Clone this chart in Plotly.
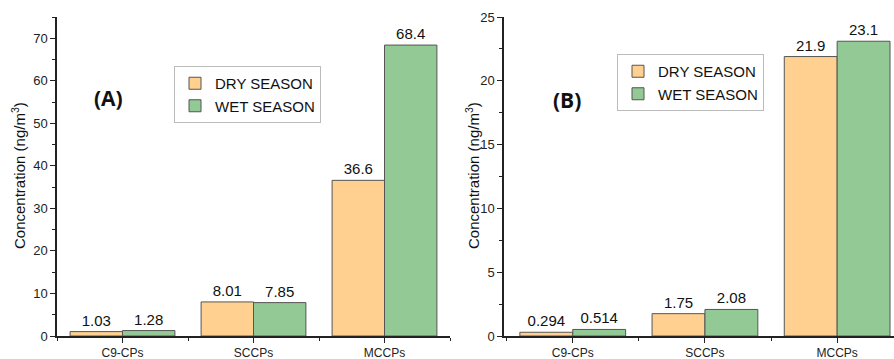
import plotly.graph_objects as go

categories = ["C9-CPs", "SCCPs", "MCCPs"]
dry_A = [1.03, 8.01, 36.6]
wet_A = [1.28, 7.85, 68.4]
dry_B = [0.294, 1.75, 21.9]
wet_B = [0.514, 2.08, 23.1]
dry_A_txt = ["1.03", "8.01", "36.6"]
wet_A_txt = ["1.28", "7.85", "68.4"]
dry_B_txt = ["0.294", "1.75", "21.9"]
wet_B_txt = ["0.514", "2.08", "23.1"]
series_names = ["DRY SEASON", "WET SEASON"]
panel_labels = ["(A)", "(B)"]
y_title = "Concentration (ng/m<sup>3</sup>)"

ORANGE = "#FFD08F"
GREEN = "#92C995"
OUTLINE = "#555555"
FONT = "Liberation Sans, Arial, sans-serif"

xpos = list(range(len(categories)))
fig = go.Figure()

def add_bars(vals, txt, name, color, xa, ya, legend):
    fig.add_trace(go.Bar(
        x=xpos, y=vals, name=name, text=txt, textposition="outside",
        textfont=dict(size=15, color="#111", family=FONT),
        marker=dict(color=color, line=dict(color=OUTLINE, width=1)),
        xaxis=xa, yaxis=ya, legend=legend, cliponaxis=False,
    ))

add_bars(dry_A, dry_A_txt, series_names[0], ORANGE, "x", "y", "legend")
add_bars(wet_A, wet_A_txt, series_names[1], GREEN, "x", "y", "legend")
add_bars(dry_B, dry_B_txt, series_names[0], ORANGE, "x2", "y2", "legend2")
add_bars(wet_B, wet_B_txt, series_names[1], GREEN, "x2", "y2", "legend2")

ybot = (359 - 336) / 359
ytop = (359 - 17) / 359

xcommon = dict(
    tickvals=xpos, ticktext=categories, showline=True, linecolor="#222", linewidth=1.5,
    ticks="outside", ticklen=5, tickcolor="#222", tickwidth=1.2,
    tickfont=dict(size=12, color="#222", family=FONT), showgrid=False, zeroline=False,
    minor=dict(tick0=0.5, dtick=1, ticks="outside", ticklen=3, tickcolor="#222", showgrid=False),
    automargin=False,
)
ycommon = dict(
    showline=True, linecolor="#222", linewidth=1.5, ticks="outside", ticklen=5,
    tickcolor="#222", tickwidth=1.2, tickfont=dict(size=13, color="#222", family=FONT),
    showgrid=False, zeroline=False, automargin=False,
)

def title_ann(x_px):
    return dict(text=y_title, x=x_px/894, y=(359-176)/359, xref="paper", yref="paper",
                xanchor="center", yanchor="middle", textangle=-90, showarrow=False,
                font=dict(size=15, color="#111", family=FONT))

def panel_ann(label, x_px, y_px):
    return dict(text="<b>" + label + "</b>", x=x_px/894, y=(359-y_px)/359, xref="paper", yref="paper",
                xanchor="center", yanchor="middle", showarrow=False,
                font=dict(size=21, color="#111", family="Open Sans, sans-serif"))

fig.update_layout(
    width=894, height=359, margin=dict(l=0, r=0, t=0, b=0, autoexpand=False),
    paper_bgcolor="white", plot_bgcolor="white",
    barmode="group", bargap=0.2, bargroupgap=0,
    font=dict(family=FONT),
    xaxis=dict(xcommon, domain=[57/894, 450/894], range=[-0.5, 2.5], anchor="y"),
    xaxis2=dict(xcommon, domain=[504/894, 1.0], range=[-0.52, 2.43], anchor="y2"),
    yaxis=dict(ycommon, domain=[ybot, ytop], range=[0, 75], dtick=10,
               minor=dict(dtick=5, ticks="outside", ticklen=3, tickcolor="#222", showgrid=False), anchor="x"),
    yaxis2=dict(ycommon, domain=[ybot, ytop], range=[0, 25], dtick=5,
                minor=dict(dtick=2.5, ticks="outside", ticklen=3, tickcolor="#222", showgrid=False), anchor="x2"),
    legend=dict(x=174/894, y=(359-66)/359, xanchor="left", yanchor="top",
                bordercolor="#bbbbbb", borderwidth=1, bgcolor="white",
                font=dict(size=15, color="#111", family=FONT), tracegroupgap=0, itemwidth=30),
    legend2=dict(x=617/894, y=(359-54)/359, xanchor="left", yanchor="top",
                 bordercolor="#bbbbbb", borderwidth=1, bgcolor="white",
                 font=dict(size=15, color="#111", family=FONT), tracegroupgap=0, itemwidth=30),
    annotations=[
        title_ann(18), title_ann(472),
        panel_ann(panel_labels[0], 108, 98),
        panel_ann(panel_labels[1], 567, 100),
    ],
)

fig.write_html("out.html", config={"displayModeBar": False},
               post_script="document.body.style.margin='0';document.body.style.overflow='hidden';")
